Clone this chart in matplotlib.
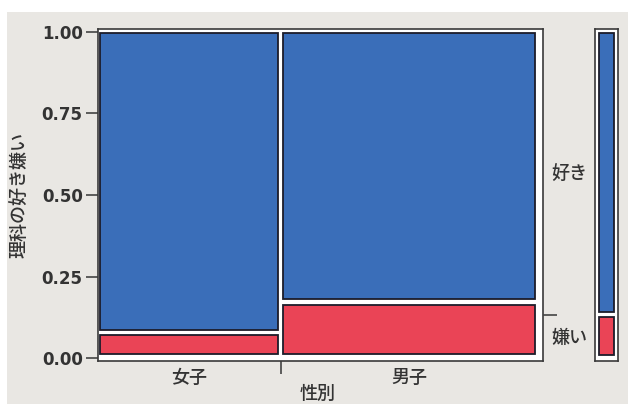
import numpy as np
import matplotlib
matplotlib.use("Agg")
import matplotlib.pyplot as plt
from matplotlib.patches import Rectangle

plt.rcParams['font.family'] = ['Noto Sans CJK JP', 'DejaVu Sans']

# data
genders = ["女子", "男子"]
col_share = [0.415, 0.585]          # share of students per gender
dislike_share = [0.078, 0.172]      # share answering 嫌い within each gender
answers = ["嫌い", "好き"]
ytick_vals = [0.0, 0.25, 0.5, 0.75, 1.0]

blue = "#3a6eb9"
red = "#ea4456"
edge = "#1c1c2a"
bg = "#e9e7e3"
txt = "#333333"
cjk_w = "medium"

W, H = 628, 404
fig = plt.figure(figsize=(W / 100, H / 100), dpi=100, facecolor="white")
fig.patches.append(Rectangle((7 / W, 0), 1, (H - 12) / H, transform=fig.transFigure,
                             facecolor=bg, edgecolor="none", zorder=-10))

def px_axes(x0, x1, ytop, ybot):
    return fig.add_axes([x0 / W, (H - ybot) / H, (x1 - x0) / W, (ybot - ytop) / H])

# ---- main mosaic
ax = px_axes(98, 543, 29, 361)
ax.set_facecolor("white")
ax.set_xlim(-2 / 435, 1 + 8 / 435)
ax.set_ylim(-3 / 326, 1 + 3 / 326)

gx = 0.0065   # half horizontal gap
gy = 0.008    # half vertical gap
left = 0.0
centers = []
for share, d in zip(col_share, dislike_share):
    x0 = left + (gx if left > 0 else 0)
    x1 = left + share - (gx if left + share < 1 else 0)
    ax.bar(x0, d - gy - 0.013, width=x1 - x0, bottom=0.013, align="edge",
           color=red, edgecolor=edge, linewidth=1.3)
    ax.bar(x0, 0.997 - (d + gy), width=x1 - x0, bottom=d + gy, align="edge",
           color=blue, edgecolor=edge, linewidth=1.3)
    centers.append((x0 + x1) / 2)
    left += share

for s in ax.spines.values():
    s.set_color("#3a3a3a")
    s.set_linewidth(1.2)

ax.set_yticks(ytick_vals)
ax.set_yticklabels([f"{v:.2f}" for v in ytick_vals], fontfamily="DejaVu Sans",
                   fontweight="bold", fontsize=12, color=txt)
ax.tick_params(axis="y", length=9, width=1.2, color="#444444", pad=2)

ax.set_xticks([col_share[0]])
ax.set_xticklabels([""])
ax.set_xticks(centers, minor=True)
ax.set_xticklabels(genders, minor=True, fontsize=13, color=txt, fontweight=cjk_w)
ax.tick_params(axis="x", which="major", length=9, width=1.2, color="#444444")
ax.tick_params(axis="x", which="minor", length=0, pad=6)

overall = sum(c * d for c, d in zip(col_share, dislike_share))
ax2 = ax.twinx()
ax2.set_ylim(ax.get_ylim())
ax2.set_yticks([overall])
ax2.set_yticklabels([""])
ax2.set_yticks([overall / 2, (1 + overall) / 2], minor=True)
ax2.set_yticklabels(answers, minor=True, fontsize=13, color=txt, fontweight=cjk_w)
ax2.tick_params(axis="y", which="major", length=10, width=1.2, color="#444444")
ax2.tick_params(axis="y", which="minor", length=0, pad=6)
for s in ax2.spines.values():
    s.set_visible(False)

fig.text(20 / W, (H - 195) / H, "理科の好き嫌い", rotation=90, ha="center", va="center",
         fontsize=13, color=txt, fontweight=cjk_w)
fig.text(318 / W, (H - 394) / H, "性別", ha="center", va="center", fontsize=13,
         color=txt, fontweight=cjk_w)

# ---- marginal bar
axm = px_axes(595, 618, 29, 361)
axm.set_facecolor("white")
axm.set_xlim(-4 / 15, 1 + 4 / 15)
axm.set_ylim(ax.get_ylim())
axm.bar(0, overall - gy - 0.008, width=1, bottom=0.008, align="edge",
        color=red, edgecolor=edge, linewidth=1.3)
axm.bar(0, 0.997 - (overall + gy), width=1, bottom=overall + gy, align="edge",
        color=blue, edgecolor=edge, linewidth=1.3)
axm.set_xticks([])
axm.set_yticks([])
for s in axm.spines.values():
    s.set_color("#3a3a3a")
    s.set_linewidth(1.2)

fig.savefig("out.png", dpi=100, facecolor="white")
